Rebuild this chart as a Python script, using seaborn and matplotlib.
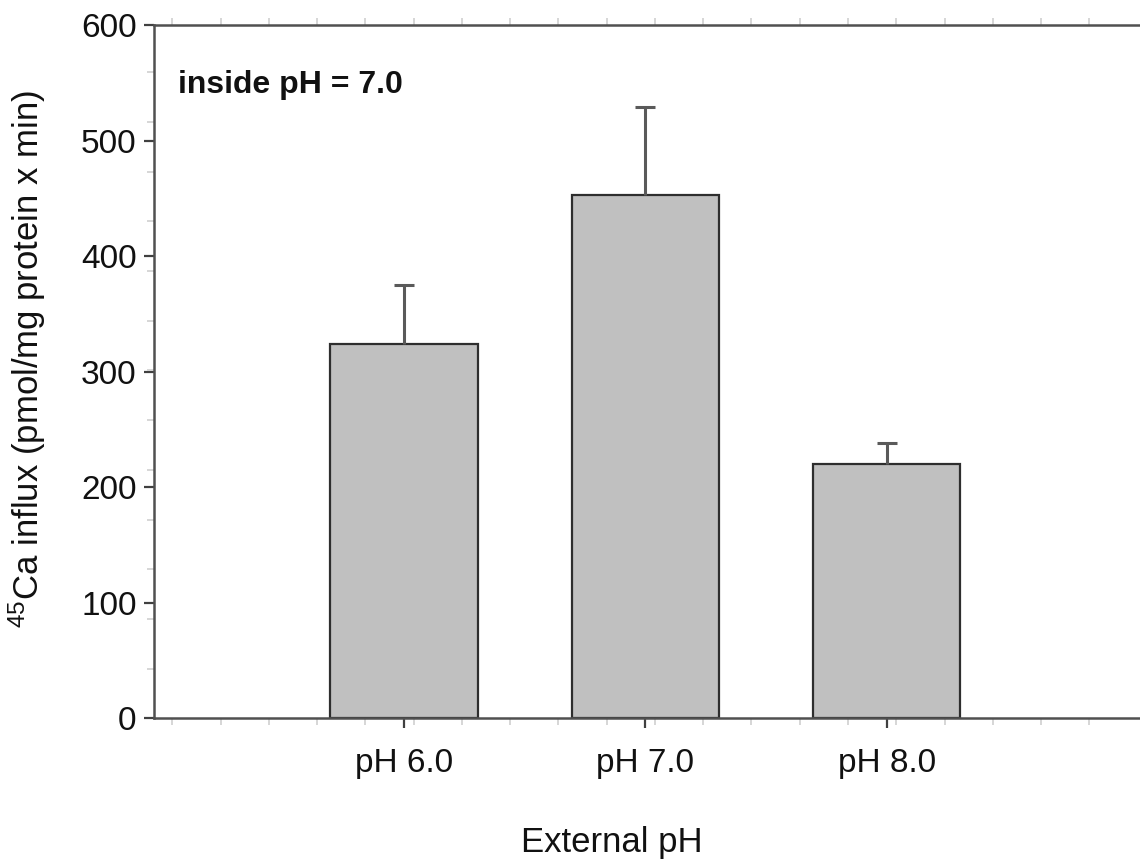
import numpy as np
import pandas as pd
import matplotlib
matplotlib.use("Agg")
import matplotlib.pyplot as plt
import seaborn as sns

# --- data ---
ph_labels = ["pH 6.0", "pH 7.0", "pH 8.0"]
influx = [324, 453, 220]
influx_err = [51, 76, 18]

sns.set_style("ticks")
plt.rcParams["font.family"] = ["Liberation Sans", "DejaVu Sans"]
plt.rcParams["mathtext.default"] = "regular"
plt.rcParams["text.color"] = "#111111"
plt.rcParams["axes.labelcolor"] = "#111111"

df = pd.DataFrame({"ph": ph_labels, "influx": influx})

fig = plt.figure(figsize=(11.4, 8.63), dpi=100)
ax = fig.add_axes([0.1351, 0.1677, 0.8649, 0.8033])

sns.barplot(data=df, x="ph", y="influx", color="#c0c0c0", saturation=1,
            edgecolor="#2e2e2e", linewidth=1.6, width=0.61, errorbar=None, ax=ax)

# upper error bars only
_, caps, _ = ax.errorbar(x=np.arange(len(ph_labels)), y=influx,
                         yerr=[np.zeros(len(influx_err)), influx_err],
                         fmt="none", ecolor="#5a5a5a", elinewidth=2.2,
                         capsize=7.2, capthick=2.2, zorder=3)
caps[0].set_visible(False)

ax.set_xlim(-1.036, 3.05)
ax.set_ylim(0, 600)
ax.set_yticks(np.arange(0, 601, 100))
ax.set_yticks(np.arange(43, 600, 43), minor=True)
ax.set_xticks(np.arange(-0.96, 3.0, 0.2), minor=True)

for side in ["left", "bottom", "top"]:
    ax.spines[side].set_color("#505050")
    ax.spines[side].set_linewidth(1.8)
ax.spines["right"].set_visible(False)

ax.tick_params(which="major", direction="out", length=7.5, width=1.6,
               color="#404040", labelcolor="#111111", labelsize=24,
               top=False, right=False)
ax.tick_params(axis="y", which="major", pad=5)
ax.tick_params(axis="x", which="major", pad=14)
ax.tick_params(which="minor", direction="out", length=5, width=1.2,
               color="#cfcfcf", top=True, bottom=True, left=True, right=False)

ax.set_xlabel("External pH", fontsize=25)
ax.set_ylabel("$^{45}$Ca influx (pmol/mg protein x min)", fontsize=25)
ax.xaxis.set_label_coords(0.4645, -0.156)
ax.yaxis.set_label_coords(-0.108, 0.518)

ax.text(0.024, 0.902, "inside pH = 7.0", transform=ax.transAxes,
        fontsize=23, fontweight="bold", va="baseline", ha="left")

fig.savefig("out.png", dpi=100)
